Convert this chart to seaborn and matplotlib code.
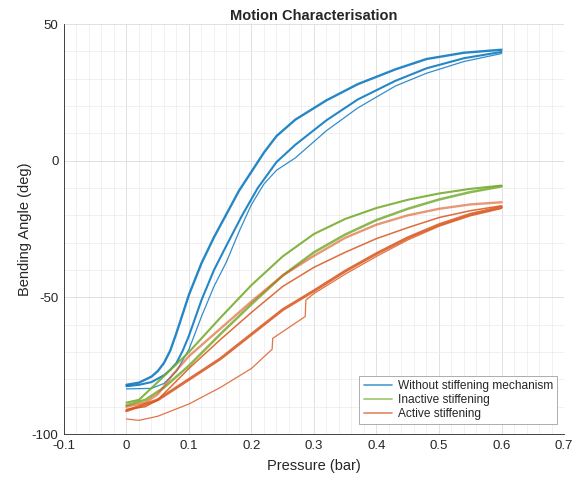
import pandas as pd
import matplotlib
matplotlib.use("Agg")
import matplotlib.pyplot as plt
import seaborn as sns
from matplotlib.ticker import MultipleLocator
from matplotlib.lines import Line2D

# ──────────────────────────────────────────────
# Data (pressure in bar, angle in deg)
# ──────────────────────────────────────────────

groups = ["Without stiffening mechanism", "Inactive stiffening", "Active stiffening"]
colours = ["#0072BD", "#77AC30", "#D95319"]

# Without stiffening mechanism
blue_unload_p = [0, 0.02, 0.04, 0.05, 0.06, 0.07, 0.08, 0.09, 0.10, 0.12, 0.14, 0.16, 0.18, 0.20, 0.22, 0.24, 0.27, 0.32, 0.37, 0.43, 0.48, 0.54, 0.60]
blue_unload_a = [-82, -81.2, -79, -77, -74, -69.5, -63, -56, -49, -37.5, -28, -19.5, -11, -4, 3, 9, 15, 22.1, 28, 33.4, 37.2, 39.5, 40.6]
blue_load_p = [0, 0.02, 0.04, 0.06, 0.07, 0.08, 0.09, 0.10, 0.11, 0.12, 0.14, 0.16, 0.185, 0.21, 0.24, 0.27, 0.32, 0.37, 0.43, 0.48, 0.54, 0.60]
blue_load_a = [-82.5, -82, -81, -78.5, -76.5, -74, -69.5, -64, -57.5, -51, -40, -31, -20, -10, -0.5, 5.8, 14.8, 22.4, 29.2, 33.8, 37.5, 39.8]
blue_first_p = [0, 0.04, 0.06, 0.08, 0.10, 0.12, 0.14, 0.16, 0.18, 0.20, 0.22, 0.24, 0.27, 0.32, 0.37, 0.43, 0.48, 0.54, 0.60]
blue_first_a = [-83.5, -83.3, -81.5, -77, -69, -57, -46, -37, -26, -16, -8.5, -3.5, 1, 11, 19.3, 27.3, 32, 36.3, 39.2]

# Inactive stiffening
green_unload_p = [0, 0.02, 0.05, 0.10, 0.15, 0.20, 0.25, 0.30, 0.35, 0.40, 0.45, 0.50, 0.55, 0.60]
green_unload_a = [-88.5, -87.5, -81, -70, -57.5, -45.5, -35, -26.8, -21.3, -17.3, -14.3, -12, -10.3, -9.1]
green_load_p = [0, 0.03, 0.06, 0.10, 0.15, 0.20, 0.25, 0.30, 0.35, 0.40, 0.45, 0.50, 0.55, 0.60]
green_load_a = [-89.5, -87.5, -83, -75, -63.5, -52.5, -42, -33.5, -27, -21.7, -17.6, -14.2, -11.5, -9.4]

# Active stiffening
orange_unload_p = [0, 0.03, 0.05, 0.075, 0.10, 0.15, 0.20, 0.25, 0.30, 0.35, 0.40, 0.45, 0.50, 0.55, 0.60]
orange_unload_a = [-90, -88.5, -85.5, -78, -71.5, -61.5, -51.5, -42, -34.8, -28.2, -23.4, -20, -17.6, -16, -15.2]
orange_mid_p = [0, 0.03, 0.05, 0.10, 0.15, 0.20, 0.25, 0.30, 0.35, 0.40, 0.45, 0.50, 0.55, 0.60]
orange_mid_a = [-91, -90, -87.5, -76, -65.5, -55.5, -46, -39, -33.5, -28.5, -24.5, -20.8, -18.3, -16.5]
orange_load_p = [0, 0.05, 0.10, 0.15, 0.20, 0.25, 0.30, 0.35, 0.40, 0.45, 0.50, 0.55, 0.60]
orange_load_a = [-91.5, -87.5, -80, -72.5, -63.5, -54.5, -47.6, -40.4, -34, -28.2, -23.4, -19.6, -17]
orange_first_p = [0, 0.02, 0.05, 0.10, 0.15, 0.20, 0.233, 0.234, 0.26, 0.286, 0.287, 0.30, 0.35, 0.40, 0.45, 0.50, 0.55, 0.60]
orange_first_a = [-94.5, -95, -93.5, -89, -83, -76, -69, -65, -61, -57, -51, -48.6, -41.5, -35, -29, -24, -20.2, -17.5]

# ──────────────────────────────────────────────
# Long-form table, one unit per curve
# ──────────────────────────────────────────────

curves = [
    ("blue_unload", groups[0], blue_unload_p, blue_unload_a),
    ("blue_load", groups[0], blue_load_p, blue_load_a),
    ("blue_first", groups[0], blue_first_p, blue_first_a),
    ("green_unload", groups[1], green_unload_p, green_unload_a),
    ("green_load", groups[1], green_load_p, green_load_a),
    ("orange_unload", groups[2], orange_unload_p, orange_unload_a),
    ("orange_mid", groups[2], orange_mid_p, orange_mid_a),
    ("orange_load", groups[2], orange_load_p, orange_load_a),
    ("orange_first", groups[2], orange_first_p, orange_first_a),
]
frames = [pd.DataFrame({"curve": c, "group": g, "pressure": p, "angle": a}) for c, g, p, a in curves]
df = pd.concat(frames, ignore_index=True)

# line width / alpha per curve (bands of overlapping cycles drawn wider)
styles = {
    "blue_unload": (1.7, 0.85),
    "blue_load": (1.5, 0.85),
    "blue_first": (0.9, 0.8),
    "green_unload": (1.5, 0.9),
    "green_load": (1.8, 0.85),
    "orange_unload": (1.7, 0.6),
    "orange_mid": (1.1, 0.85),
    "orange_load": (2.1, 0.85),
    "orange_first": (0.9, 0.8),
}
palette = dict(zip(groups, colours))

# ──────────────────────────────────────────────
# Plot
# ──────────────────────────────────────────────

sns.set_style("white")
plt.rcParams["font.family"] = ["Liberation Sans", "DejaVu Sans"]
plt.rcParams["axes.unicode_minus"] = False

fig = plt.figure(figsize=(5.79, 4.78), dpi=100)
ax = fig.add_axes([0.1105, 0.092, 0.8636, 0.8577])

for name, sub in df.groupby("curve", sort=False):
    lw, alpha = styles[name]
    sns.lineplot(data=sub, x="pressure", y="angle", color=palette[sub["group"].iloc[0]],
                 lw=lw, alpha=alpha, sort=False, estimator=None, ax=ax)

ax.set_xlim(-0.1, 0.7)
ax.set_ylim(-100, 50)
ax.xaxis.set_major_locator(MultipleLocator(0.1))
ax.xaxis.set_minor_locator(MultipleLocator(0.02))
ax.yaxis.set_major_locator(MultipleLocator(50))
ax.yaxis.set_minor_locator(MultipleLocator(10))
ax.set_xticklabels([f"{v:g}" for v in ax.get_xticks()])

ax.grid(which="major", color="#dcdcdc", lw=0.6)
ax.grid(which="minor", color="#ebebeb", lw=0.5)
ax.set_axisbelow(True)

for side in ["top", "right"]:
    ax.spines[side].set_visible(False)
for side in ["left", "bottom"]:
    ax.spines[side].set_color("#262626")
    ax.spines[side].set_linewidth(0.6)

ax.tick_params(which="major", direction="in", length=4, width=0.6, color="#262626",
               labelsize=9.5, labelcolor="#262626", pad=4)
ax.tick_params(which="minor", length=0)

ax.set_xlabel("Pressure (bar)", fontsize=10.5, color="#262626", labelpad=5)
ax.set_ylabel("Bending Angle (deg)", fontsize=10.5, color="#262626", labelpad=0)
ax.set_title("Motion Characterisation", fontsize=10.5, fontweight="bold", pad=3)

handles = [Line2D([], [], color=c, lw=1.3, alpha=0.65) for c in colours]
leg = ax.legend(handles, groups, loc="lower right", bbox_to_anchor=(0.986, 0.024),
                borderaxespad=0, fontsize=8.6, fancybox=False, framealpha=1,
                edgecolor="#a0a0a0", handlelength=2.4, handletextpad=0.45,
                labelspacing=0.15, borderpad=0.35)
leg.get_frame().set_linewidth(0.6)

fig.savefig("out.png", dpi=100)
